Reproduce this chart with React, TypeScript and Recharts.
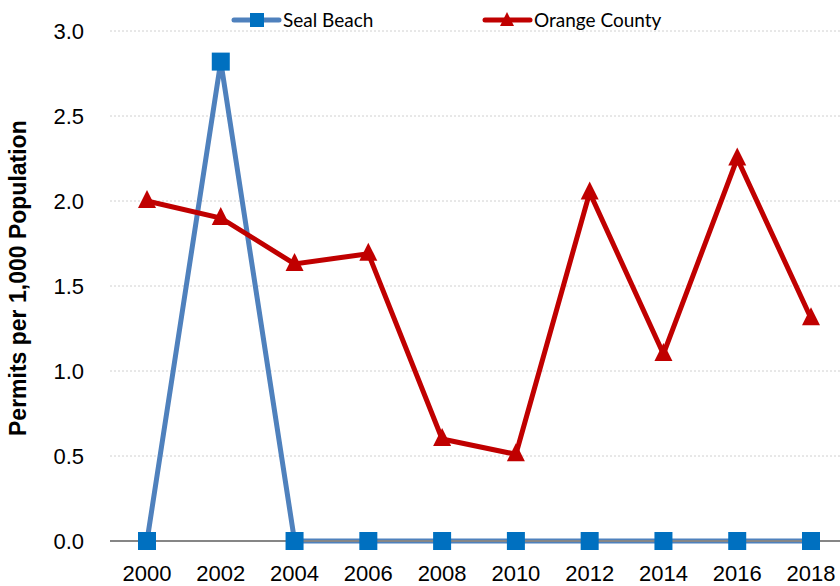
import { LineChart, Line, XAxis, YAxis, CartesianGrid } from "recharts";

const years = ["2000", "2002", "2004", "2006", "2008", "2010", "2012", "2014", "2016", "2018"];
const sealBeach = [0, 2.82, 0, 0, 0, 0, 0, 0, 0, 0];
const orangeCounty = [2.0, 1.9, 1.63, 1.69, 0.6, 0.51, 2.05, 1.1, 2.25, 1.31];
const yTicks = [0, 0.5, 1, 1.5, 2, 2.5, 3];

const data = years.map((y, i) => ({
  year: y,
  "Seal Beach": sealBeach[i],
  "Orange County": orangeCounty[i],
}));

const BLUE_LINE = "#4f81bd";
const BLUE_MARK = "#0070c0";
const RED = "#c00000";
const tickFont = "Liberation Sans, Arial, sans-serif";
const legendFont = "Lato, Open Sans, sans-serif";

const SquareDot = (props: any) => {
  const { cx, cy, index } = props;
  return <rect key={index} x={cx - 9} y={cy - 9} width={18} height={18} fill={BLUE_MARK} />;
};

const TriangleDot = (props: any) => {
  const { cx, cy, index } = props;
  return (
    <polygon
      key={index}
      points={`${cx},${cy - 11} ${cx + 9},${cy + 7} ${cx - 9},${cy + 7}`}
      fill={RED}
    />
  );
};

const XTick = (props: any) => {
  const { x, y, payload } = props;
  return (
    <text x={x} y={y + 32} textAnchor="middle" fontSize={22} fontFamily={tickFont} fill="#000">
      {payload.value}
    </text>
  );
};

const YTick = (props: any) => {
  const { x, y, payload } = props;
  return (
    <text x={x} y={y + 8} textAnchor="end" fontSize={22} fontFamily={tickFont} fill="#000">
      {payload.value.toFixed(1)}
    </text>
  );
};

const LegendOverlay = () => (
  <svg width={840} height={40} style={{ position: "absolute", left: 0, top: 0 }}>
    <line x1={234} y1={20} x2={279} y2={20} stroke={BLUE_LINE} strokeWidth={5} strokeLinecap="round" />
    <rect x={250} y={13} width={14} height={14} fill={BLUE_MARK} />
    <text x={283} y={27} fontSize={19} fontFamily={legendFont} fill="#000">
      Seal Beach
    </text>
    <line x1={485} y1={20} x2={530} y2={20} stroke={RED} strokeWidth={5} strokeLinecap="round" />
    <polygon points="507,12 514,26 500,26" fill={RED} />
    <text x={534} y={27} fontSize={19} fontFamily={legendFont} fill="#000">
      Orange County
    </text>
  </svg>
);

export default function App() {
  return (
    <div style={{ position: "absolute", left: 0, top: 0, width: 840, height: 586, overflow: "hidden", background: "#fff" }}>
      <LineChart width={850} height={586} data={data} margin={{ top: 31, right: 2, left: 0, bottom: 0 }}>
        <CartesianGrid vertical={false} stroke="#d0d0d0" strokeDasharray="2 2" />
        <XAxis
          dataKey="year"
          axisLine={{ stroke: "#868686", strokeWidth: 2 }}
          tickLine={false}
          tick={XTick}
          padding={{ left: 37, right: 37 }}
          interval={0}
          height={45}
        />
        <YAxis
          width={110}
          domain={[0, 3]}
          ticks={yTicks}
          axisLine={false}
          tickLine={false}
          tick={YTick}
          tickMargin={20}
          label={{
            value: "Permits per 1,000 Population",
            angle: -90,
            position: "insideLeft",
            offset: 18,
            dy: 150,
            style: { fontSize: 23, fontWeight: "bold", fontFamily: tickFont, fill: "#000" },
          }}
        />
        <Line
          dataKey="Seal Beach"
          stroke={BLUE_LINE}
          strokeWidth={5}
          dot={SquareDot}
          activeDot={false}
          isAnimationActive={false}
        />
        <Line
          dataKey="Orange County"
          stroke={RED}
          strokeWidth={5}
          dot={TriangleDot}
          activeDot={false}
          isAnimationActive={false}
        />
      </LineChart>
      <LegendOverlay />
    </div>
  );
}
